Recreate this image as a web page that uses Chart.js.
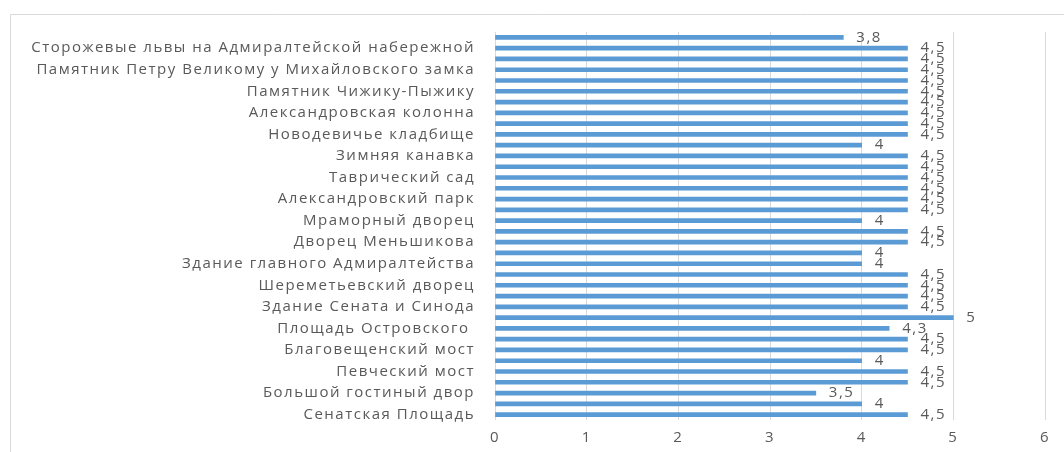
<!DOCTYPE html>
<html>
<head>
<meta charset="utf-8">
<script src="https://cdn.jsdelivr.net/npm/chart.js@4.4.1/dist/chart.umd.min.js"></script>
<style>
    html, body { margin: 0; padding: 0; background: #fff; }
    #wrap { width: 1064px; height: 452px; position: relative; }
</style>
</head>
<body>
<div id="wrap"><canvas id="chart"></canvas></div>
<script>
// Categories, top to bottom (the reference shows every second name; hidden ones left blank)
const places = [
    '',
    'Сторожевые львы на Адмиралтейской набережной',
    '',
    'Памятник Петру Великому у Михайловского замка',
    '',
    'Памятник Чижику-Пыжику',
    '',
    'Александровская колонна',
    '',
    'Новодевичье кладбище',
    '',
    'Зимняя канавка',
    '',
    'Таврический сад',
    '',
    'Александровский парк',
    '',
    'Мраморный дворец',
    '',
    'Дворец Меньшикова',
    '',
    'Здание главного Адмиралтейства',
    '',
    'Шереметьевский дворец',
    '',
    'Здание Сената и Синода',
    '',
    'Площадь Островского ',
    '',
    'Благовещенский мост',
    '',
    'Певческий мост',
    '',
    'Большой гостиный двор',
    '',
    'Сенатская Площадь'
];

// Ratings, same order
const ratings = [
    3.8, 4.5, 4.5, 4.5, 4.5, 4.5, 4.5, 4.5, 4.5, 4.5,
    4, 4.5, 4.5, 4.5, 4.5, 4.5, 4.5, 4, 4.5, 4.5,
    4, 4, 4.5, 4.5, 4.5, 4.5, 5, 4.3, 4.5, 4.5,
    4, 4.5, 4.5, 3.5, 4, 4.5
];

const xTicks = [0, 1, 2, 3, 4, 5, 6];

const textColor = '#595959';
const fontFamily = '"Open Sans", sans-serif';

function fmt(v) {
    return String(v).replace('.', ',');
}

// Frame lines on top and left like the source sheet; the source text is drawn wide
const framePlugin = {
    id: 'frame',
    beforeDraw(chart) {
        const ctx = chart.ctx;
        ctx.letterSpacing = '1.5px';
        ctx.save();
        ctx.strokeStyle = '#d9d9d9';
        ctx.lineWidth = 1;
        ctx.beginPath();
        ctx.moveTo(10.5, 452);
        ctx.lineTo(10.5, 14.5);
        ctx.lineTo(1064, 14.5);
        ctx.stroke();
        ctx.restore();
    }
};

// Value labels just past the bar ends
const valueLabels = {
    id: 'valueLabels',
    afterDatasetsDraw(chart) {
        const ctx = chart.ctx;
        const meta = chart.getDatasetMeta(0);
        ctx.save();
        ctx.fillStyle = textColor;
        ctx.font = '15px ' + fontFamily;
        ctx.textAlign = 'left';
        ctx.textBaseline = 'middle';
        meta.data.forEach((bar, i) => {
            ctx.fillText(fmt(ratings[i]), bar.x + 13, bar.y);
        });
        ctx.restore();
    }
};

new Chart(document.getElementById('chart'), {
    type: 'bar',
    data: {
        labels: places,
        datasets: [{
            data: ratings,
            backgroundColor: '#5b9bd5',
            barThickness: 4
        }]
    },
    options: {
        indexAxis: 'y',
        responsive: true,
        maintainAspectRatio: false,
        animation: false,
        layout: { padding: { top: 32, right: 19, bottom: 0, left: 0 } },
        scales: {
            x: {
                min: 0,
                max: 6,
                afterBuildTicks(axis) {
                    axis.ticks = xTicks.map(v => ({ value: v }));
                },
                afterFit(axis) { axis.height = 32; },
                grid: { color: '#d9d9d9', drawTicks: false },
                border: { display: false },
                ticks: {
                    color: textColor,
                    padding: 9,
                    font: { family: fontFamily, size: 15 }
                }
            },
            y: {
                afterFit(axis) { axis.width = 495; },
                grid: { display: false, drawTicks: false },
                border: { display: false },
                ticks: {
                    autoSkip: false,
                    color: textColor,
                    padding: 20,
                    font: { family: fontFamily, size: 15 }
                }
            }
        },
        plugins: {
            legend: { display: false },
            tooltip: { enabled: false }
        }
    },
    plugins: [framePlugin, valueLabels]
});
</script>
</body>
</html>
